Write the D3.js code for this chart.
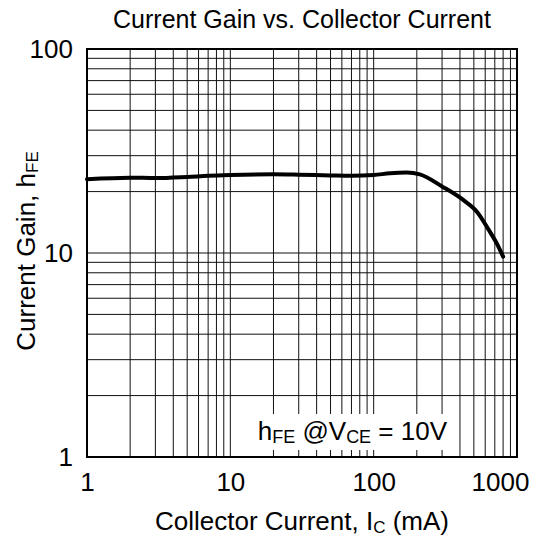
<!DOCTYPE html>
<html>
<head>
<meta charset="utf-8">
<script src="https://cdn.jsdelivr.net/npm/d3@7"></script>
<style>
  html, body { margin: 0; padding: 0; background: #fff; }
  svg { display: block; font-family: "Liberation Sans", Arial, sans-serif; }
</style>
</head>
<body>
<svg id="chart" width="544" height="538"></svg>
<script>
// Data
const collectorCurrent = [1, 2, 3, 5, 7, 10, 20, 30, 50, 70, 100, 130, 170, 210, 300, 430, 530, 630, 730, 800];
const currentGain      = [23.0, 23.4, 23.3, 23.6, 23.9, 24.1, 24.3, 24.2, 24.0, 23.9, 24.1, 24.6, 24.8, 24.3, 21.2, 18.0, 15.8, 13.1, 11.0, 9.6];
const xTickValues = [1, 10, 100, 1000];
const xTickLabels = ["1", "10", "100", "1000"];
const yTickValues = [1, 10, 100];
const yTickLabels = ["1", "10", "100"];

const svg = d3.select("#chart");
const W = 544, H = 538;
const margin = { left: 87, right: 27, top: 49, bottom: 81 };
const x = d3.scaleLog().domain([1, 1000]).range([margin.left, W - margin.right]);
const y = d3.scaleLog().domain([1, 100]).range([H - margin.bottom, margin.top]);

// grid lines
const xGrid = [];
for (let d = 1; d < 1000; d *= 10) for (let k = 1; k <= 9; k++) xGrid.push(d * k);
xGrid.push(1000);
const yGrid = [];
for (let d = 1; d < 100; d *= 10) for (let k = 1; k <= 9; k++) yGrid.push(d * k);
yGrid.push(100);

const g = svg.append("g");
g.selectAll("line.vx").data(xGrid).enter().append("line")
  .attr("x1", d => x(d)).attr("x2", d => x(d))
  .attr("y1", y(1)).attr("y2", y(100))
  .attr("stroke", "#111").attr("stroke-width", 1);
g.selectAll("line.hy").data(yGrid).enter().append("line")
  .attr("y1", d => y(d)).attr("y2", d => y(d))
  .attr("x1", x(1)).attr("x2", x(1000))
  .attr("stroke", "#111").attr("stroke-width", 1);

// annotation with white background hiding grid
const ann = svg.append("text")
  .attr("x", x(300) + 5).attr("y", y(1) - 17)
  .attr("text-anchor", "end")
  .attr("font-size", 26).attr("fill", "#000");
ann.append("tspan").text("h");
ann.append("tspan").text("FE").attr("font-size", 18).attr("dy", 3);
ann.append("tspan").text(" @V").attr("dy", -3);
ann.append("tspan").text("CE").attr("font-size", 18).attr("dy", 3);
ann.append("tspan").text(" = 10V").attr("dy", -3);
const bb = ann.node().getBBox();
svg.insert("rect", "text")
  .attr("x", bb.x - 10).attr("y", y(1) - 43)
  .attr("width", bb.width + 18).attr("height", 36)
  .attr("fill", "#fff");

// curve
const line = d3.line()
  .x((d, i) => x(collectorCurrent[i]))
  .y(d => y(d))
  .curve(d3.curveMonotoneX);
svg.append("path")
  .datum(currentGain)
  .attr("d", line)
  .attr("fill", "none")
  .attr("stroke", "#000")
  .attr("stroke-width", 4)
  .attr("stroke-linejoin", "round")
  .attr("stroke-linecap", "round");

// frame
svg.append("rect")
  .attr("x", x(1)).attr("y", y(100))
  .attr("width", x(1000) - x(1)).attr("height", y(1) - y(100))
  .attr("fill", "none").attr("stroke", "#000").attr("stroke-width", 2);

// axes
const xAxis = d3.axisBottom(x).tickValues(xTickValues)
  .tickFormat((d, i) => xTickLabels[i]).tickSize(0).tickPadding(16);
const xa = svg.append("g").attr("transform", `translate(0,${y(1)})`).call(xAxis);
xa.select(".domain").remove();
xa.selectAll("text").attr("font-size", 26).attr("fill", "#000")
  .attr("font-family", "Liberation Sans, Arial, sans-serif")
  .attr("dx", d => d === 1000 ? -17 : 0);

const yAxis = d3.axisLeft(y).tickValues(yTickValues)
  .tickFormat((d, i) => yTickLabels[i]).tickSize(0).tickPadding(14);
const ya = svg.append("g").attr("transform", `translate(${x(1)},0)`).call(yAxis);
ya.select(".domain").remove();
ya.selectAll("text").attr("font-size", 26).attr("fill", "#000")
  .attr("font-family", "Liberation Sans, Arial, sans-serif");

// title
svg.append("text")
  .attr("x", (x(1) + x(1000)) / 2).attr("y", 28)
  .attr("text-anchor", "middle").attr("font-size", 25)
  .text("Current Gain vs. Collector Current");

// x title
const xt = svg.append("text")
  .attr("x", (x(1) + x(1000)) / 2).attr("y", 530)
  .attr("text-anchor", "middle").attr("font-size", 26);
xt.append("tspan").text("Collector Current, I");
xt.append("tspan").text("C").attr("font-size", 17).attr("dy", 3);
xt.append("tspan").text(" (mA)").attr("dy", -3);

// y title
const yt = svg.append("text")
  .attr("transform", `translate(35,${(y(1) + y(100)) / 2 - 2}) rotate(-90)`)
  .attr("text-anchor", "middle").attr("font-size", 26);
yt.append("tspan").text("Current Gain, h");
yt.append("tspan").text("FE").attr("font-size", 17).attr("dy", 3);
</script>
</body>
</html>
